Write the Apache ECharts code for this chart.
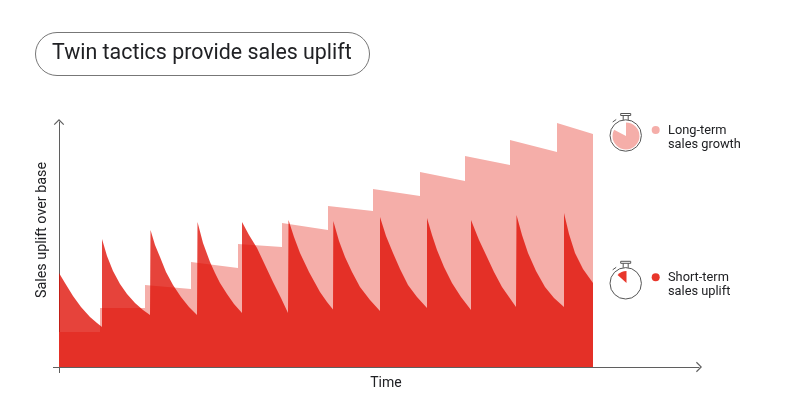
<!DOCTYPE html>
<html>
<head>
<meta charset="utf-8">
<style>html,body{margin:0;padding:0;background:#fff}#c{width:794px;height:417px}</style>
<script src="https://cdn.jsdelivr.net/npm/echarts@6/dist/echarts.min.js"></script>
</head>
<body>
<div id="c"></div>
<script>
const chartTitle = 'Twin tactics provide sales uplift';
const xName = 'Time';
const yName = 'Sales uplift over base';
const shortName = ['Short-term', 'sales uplift'];
const longName = ['Long-term', 'sales growth'];
const xMax = 640;
const yMax = 245;

const shortTerm = [
  [0,94],[6,84],[14,71],[22,60],[31,50],[38,44],[43,40],
  [43,128],[48,111],[54,96],[61,83],[68,73],[76,64],[84,57],[91,52],
  [91.5,137],[96,122],[101,110],[107,95],[114,82],[122,70],[130,60],[138,52],
  [138.5,145],[144,124],[151,105],[156,94],[161,84],[168,73],[175,63],[183,54],
  [183,145],[190,132],[198,119],[206,102],[214,85],[222,69],[229,54],
  [229.5,147],[235,130],[241,114],[250,95],[261,75],[268,65],[274,57.5],
  [274.3,146],[280,126],[286,110],[293,95],[301,80],[311,67],[321,56],
  [321,150],[327,131],[334,114],[341,98],[349,82],[358,70],[368,59],
  [368,149],[373,132],[378,117],[385,100],[393,84],[402,70],[412,57],
  [412,147],[420,127],[428,110],[435,95],[443,80],[450,70],[457,60],
  [457.5,152],[463,132],[469,114],[477,96],[486,80],[495,69],[505,60],
  [505,154],[510,133],[516,114],[524,98],[534,84]
];
const longTerm = [
  [0,35],[41,35],
  [41,59],[86,59],
  [86,82],[132,78],
  [132,105],[179,99],
  [179,123],[223,120],
  [223,144],[269,137],
  [269,161],[314,156],
  [314,178],[361,171],
  [361,195],[406,186],
  [406,211],[451,202],
  [451,227],[498,215],
  [498,244],[534,233]
];

const ink = '#202124';
const axisColor = '#5f5f5f';
const longColor = '#f5aea9';
const shortColor = 'rgba(222,10,0,0.77)';
const dotShort = '#e8362b';
const font = 'Roboto';
const chevron = 'path://M0 10 L10 0 L20 10 L18.4 11.6 L10 3.2 L1.6 11.6 Z';

function legendText(lines, y) {
  return lines.map((t, i) => ({
    type: 'text', left: 668, top: y + i * 14.5 - 6,
    style: { text: t, fill: ink, font: '12.8px ' + font }
  }));
}
function watch(cx, cy) {
  const s = { stroke: '#555', fill: 'none', lineWidth: 1 };
  return [
    { type: 'circle', shape: { cx: cx, cy: cy, r: 15.7 }, style: s },
    { type: 'rect', shape: { x: cx - 5, y: cy - 22, width: 10, height: 2 }, style: s },
    { type: 'line', shape: { x1: cx - 2.5, y1: cy - 20, x2: cx - 2.5, y2: cy - 15.5 }, style: s },
    { type: 'line', shape: { x1: cx + 2.5, y1: cy - 20, x2: cx + 2.5, y2: cy - 15.5 }, style: s },
    { type: 'line', shape: { x1: cx - 13, y1: cy - 13.5, x2: cx - 9.5, y2: cy - 16 }, style: s }
  ];
}

const chart = echarts.init(document.getElementById('c'), null, { renderer: 'canvas' });
chart.setOption({
  animation: false,
  backgroundColor: '#fff',
  title: {
    text: chartTitle, left: 52, top: 43, padding: 0,
    textStyle: { fontFamily: font, fontSize: 21.4, fontWeight: 400, color: ink }
  },
  grid: { left: 59, top: 122, width: xMax, height: yMax, outerBoundsMode: 'none', containLabel: false },
  xAxis: {
    type: 'value', min: 0, max: xMax, interval: 1000,
    name: xName, nameLocation: 'middle', nameGap: 9,
    nameTextStyle: { fontFamily: font, fontSize: 14, color: ink, padding: [0, 0, 0, 14] },
    axisLine: { show: true, lineStyle: { color: axisColor, width: 1 }, symbol: ['none', chevron], symbolSize: [11, 6] },
    axisTick: { show: true, length: 6, customValues: [0], lineStyle: { color: axisColor } },
    axisLabel: { show: false }, splitLine: { show: false }
  },
  yAxis: {
    type: 'value', min: 0, max: yMax, interval: 1000,
    name: yName, nameLocation: 'middle', nameGap: 10, nameRotate: 90,
    nameTextStyle: { fontFamily: font, fontSize: 14.3, color: ink, padding: [0, 0, 0, 29] },
    axisLine: { show: true, lineStyle: { color: axisColor, width: 1 }, symbol: ['none', chevron], symbolSize: [11, 6] },
    axisTick: { show: true, length: 6, customValues: [0], lineStyle: { color: axisColor } },
    axisLabel: { show: false }, splitLine: { show: false }
  },
  series: [
    { name: longName.join(' '), type: 'line', data: longTerm, showSymbol: false, silent: true, z: 1,
      lineStyle: { width: 0 }, areaStyle: { color: longColor, opacity: 1 } },
    { name: shortName.join(' '), type: 'line', data: shortTerm, showSymbol: false, silent: true, z: 2,
      lineStyle: { width: 0 }, areaStyle: { color: shortColor, opacity: 1 } }
  ],
  graphic: [
    { type: 'rect', shape: { x: 35.5, y: 32.5, width: 334, height: 43, r: 21.5 }, style: { fill: 'none', stroke: '#777', lineWidth: 1 } },
    ...watch(625.7, 135.5),
    { type: 'sector', shape: { cx: 626, cy: 136, r: 13.5, r0: 0, startAngle: -Math.PI / 2, endAngle: 208 * Math.PI / 180, clockwise: true }, style: { fill: longColor } },
    ...watch(625.7, 283.3),
    { type: 'sector', shape: { cx: 626.5, cy: 283, r: 12, r0: 0, startAngle: 222 * Math.PI / 180, endAngle: 270 * Math.PI / 180, clockwise: true }, style: { fill: dotShort } },
    { type: 'circle', shape: { cx: 655.7, cy: 130, r: 4 }, style: { fill: longColor } },
    { type: 'circle', shape: { cx: 655.7, cy: 277.3, r: 4 }, style: { fill: dotShort } },
    ...legendText(longName, 130),
    ...legendText(shortName, 277)
  ]
});
</script>
</body>
</html>
